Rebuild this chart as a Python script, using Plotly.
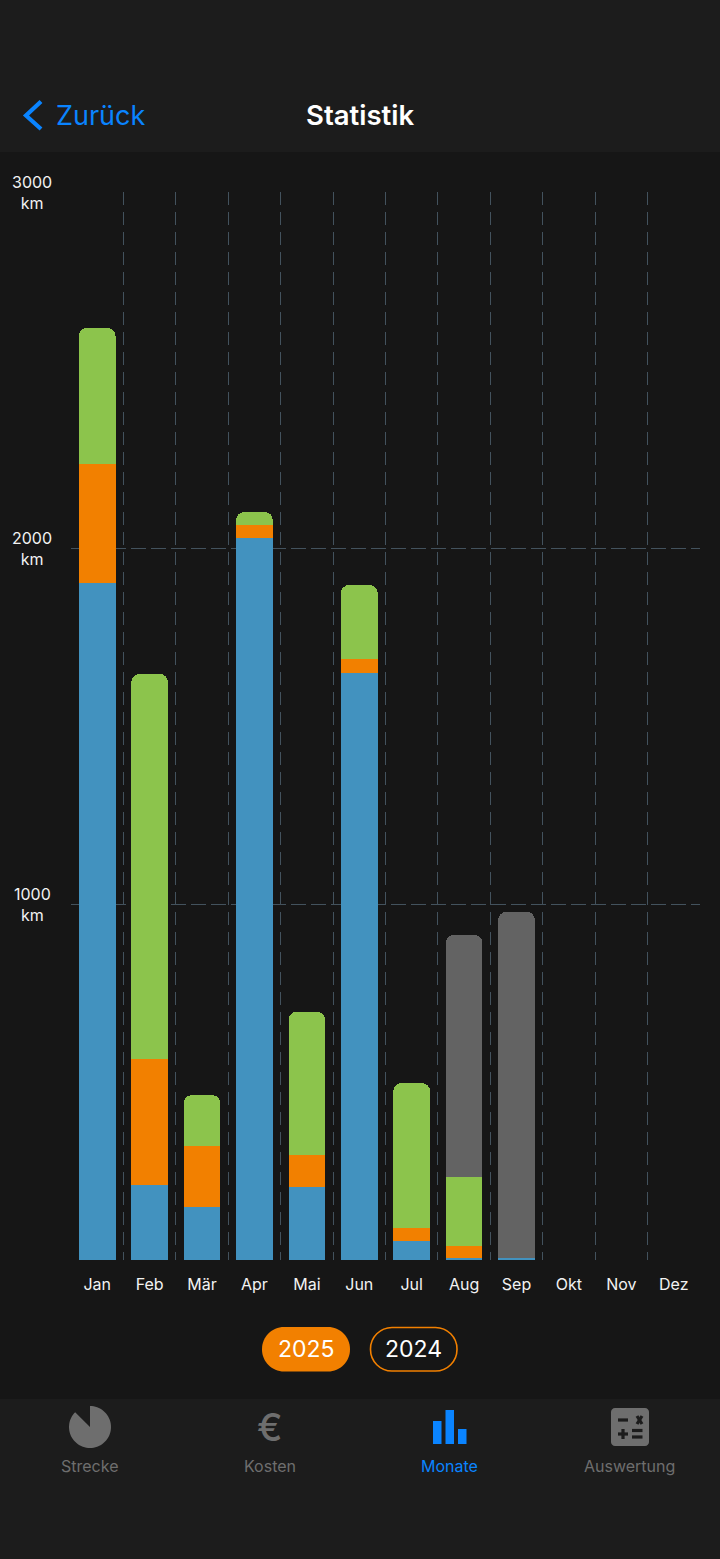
import numpy as np
import plotly.graph_objects as go

months = ["Jan", "Feb", "Mär", "Apr", "Mai", "Jun", "Jul", "Aug", "Sep", "Okt", "Nov", "Dez"]
blue_km = [1902, 211, 149, 2027, 205, 1649, 53, 7, 6, None, None, None]
orange_km = [334, 354, 171, 38, 90, 39, 37, 32, None, None, None, None]
green_km = [382, 1081, 143, 36, 402, 208, 407, 194, None, None, None, None]
grey_km = [None, None, None, None, None, None, None, 680, 972, None, None, None]
y_labels = [0, 1000, 2000, 3000]
tabs = ["Strecke", "Kosten", "Monate", "Auswertung"]
years = ["2025", "2024"]

W, H = 720, 1559
L, R, T, B = 71, 20, 192, 299
PW, PH = W - L - R, H - T - B
FONT = "Inter, 'Noto Sans', sans-serif"
BG, BAR = "#161616", "#1C1C1C"
ACCENT, ORANGE, MUTED = "#0A84FF", "#F28000", "#6E6E6E"
GRID = "#43525D"


def X(p):
    return (p - L) / PW


def Y(p):
    return (H - B - p) / PH


def P(pts, close=True):
    s = "M" + " L".join(f"{X(a):.5f},{Y(b):.5f}" for a, b in pts)
    return s + (" Z" if close else "")


def rrect(x0, y0, x1, y1, r):
    c = r * 0.448
    f = lambda a, b: f"{X(a):.5f},{Y(b):.5f}"
    return (f"M{f(x0 + r, y0)} L{f(x1 - r, y0)} C{f(x1 - c, y0)} {f(x1, y0 + c)} {f(x1, y0 + r)} "
            f"L{f(x1, y1 - r)} C{f(x1, y1 - c)} {f(x1 - c, y1)} {f(x1 - r, y1)} "
            f"L{f(x0 + r, y1)} C{f(x0 + c, y1)} {f(x0, y1 - c)} {f(x0, y1 - r)} "
            f"L{f(x0, y0 + r)} C{f(x0, y0 + c)} {f(x0 + c, y0)} {f(x0 + r, y0)} Z")


def pshape(path, fill=None, line=None, width=0, layer="above"):
    return dict(type="path", xref="paper", yref="paper", path=path, fillcolor=fill or "rgba(0,0,0,0)",
                line=dict(color=line or "rgba(0,0,0,0)", width=width), layer=layer)


def seg(a, b, c, d, color, width=3.2):
    return dict(type="line", xref="paper", yref="paper", x0=X(a), y0=Y(b), x1=X(c), y1=Y(d),
                line=dict(color=color, width=width), layer="above")


def rect(x0, y0, x1, y1, color, layer="below"):
    return dict(type="rect", xref="paper", yref="paper", x0=X(x0), x1=X(x1), y0=Y(y0), y1=Y(y1),
                fillcolor=color, line=dict(width=0), layer=layer)


fig = go.Figure()
for name, vals, color in [("Blau", blue_km, "#4292BF"), ("Orange", orange_km, ORANGE),
                          ("Grün", green_km, "#8CC44C"), ("2024", grey_km, "#636363")]:
    fig.add_bar(x=months, y=vals, name=name, marker=dict(color=color, line=dict(width=0)),
                hoverinfo="skip")

shapes = [rect(0, 0, W, 152, BAR), rect(0, 1399, W, H, BAR)]
# back chevron
shapes.append(pshape(P([(41, 101.5), (26, 115.5), (41, 129)], close=False), line=ACCENT, width=4.2))
# year pills
shapes.append(pshape(rrect(262, 1327, 350, 1371.5, 22), fill=ORANGE))
shapes.append(pshape(rrect(370.5, 1327.5, 457, 1371, 21.5), line=ORANGE, width=1.6))
# tab icons: pie
cx, cy, r = 90, 1427, 21
angles = np.radians(np.linspace(0, 315, 64))
pts = [(cx, cy)] + [(cx + r * np.sin(a), cy - r * np.cos(a)) for a in angles]
shapes.append(pshape(P(pts), fill=MUTED))
# tab icons: bars
for x0, x1, y0 in [(433, 441.5, 1421), (445.5, 454, 1410), (458, 466.5, 1429)]:
    shapes.append(rect(x0, y0, x1, 1444, ACCENT, layer="above"))
# tab icons: calculator
shapes.append(pshape(rrect(611, 1408, 649, 1446, 4), fill=MUTED))
D = BAR
shapes += [seg(618, 1420, 628, 1420, D), seg(637, 1416, 642, 1424, D), seg(642, 1416, 637, 1424, D),
           seg(618, 1434, 628, 1434, D), seg(623, 1429, 623, 1439, D),
           seg(632, 1430.5, 642.5, 1430.5, D), seg(632, 1437, 642.5, 1437, D)]

ann = [dict(xref="paper", yref="y", x=X(32) if v else X(58), y=v - 3 if v == 0 else v - 1, text=f"{v}<br>km" if v else "0",
            showarrow=False, align="center", xanchor="center", yanchor="middle",
            font=dict(family=FONT, size=16, color="#F2F2F2")) for v in y_labels]


def txt(px, py, s, size, color, weight=400):
    return dict(xref="paper", yref="paper", x=X(px), y=Y(py), text=s, showarrow=False,
                xanchor="center", yanchor="middle",
                font=dict(family=FONT, size=size, color=color, weight=weight))


ann += [txt(100.5, 115.5, "Zurück", 27, ACCENT), txt(359.5, 115, "Statistik", 27.5, "#FFFFFF", 600),
        txt(306, 1349, years[0], 23, "#FFFFFF"), txt(413.5, 1349, years[1], 23, "#FFFFFF"),
        txt(270, 1427, "€", 38, MUTED, 500)]
for px, s, col in zip([89.8, 269.8, 449.8, 629.8], tabs, [MUTED, MUTED, ACCENT, MUTED]):
    ann.append(txt(px, 1465.5, s, 16, col, 400))

fig.update_layout(
    width=W, height=H, autosize=False, margin=dict(l=L, r=R, t=T, b=B, pad=0),
    barmode="stack", bargap=0.3, barcornerradius=8, showlegend=False,
    paper_bgcolor=BG, plot_bgcolor="rgba(0,0,0,0)",
    font=dict(family=FONT, color="#F2F2F2"), shapes=shapes, annotations=ann,
    xaxis=dict(type="category", categoryorder="array", categoryarray=months, range=[-0.5, 11.5],
               tickson="boundaries", showgrid=True, gridcolor=GRID, gridwidth=1, griddash="13px,7px",
               ticks="", showline=False, zeroline=False, ticklabelstandoff=13,
               tickfont=dict(family=FONT, size=16, color="#F2F2F2")),
    yaxis=dict(range=[0, 3000], tickmode="array", tickvals=y_labels[1:3], showticklabels=False,
               showgrid=True, gridcolor=GRID, gridwidth=1, griddash="15px,5px",
               zeroline=False, showline=False, ticks=""),
)

fig.write_html("out.html", config=dict(displayModeBar=False, responsive=False),
               post_script="document.body.style.margin='0';document.body.style.background='#161616';")
